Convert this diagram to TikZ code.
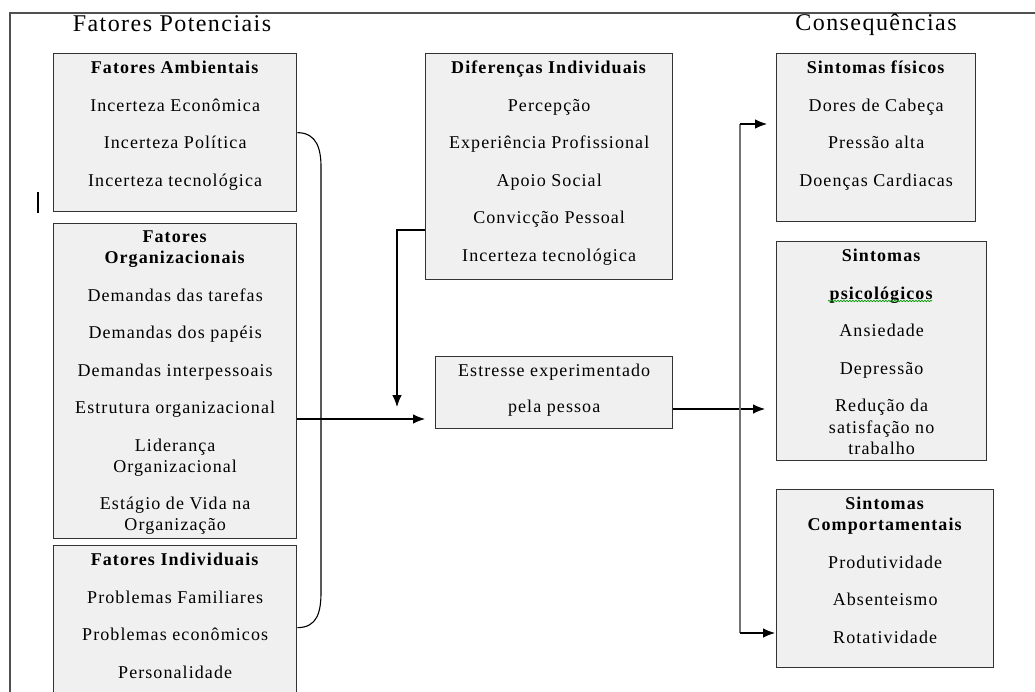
\documentclass[tikz,border=0pt]{standalone}
\usepackage{fontspec}
\setmainfont{Liberation Serif}[LetterSpace=6]
\usepackage{tikz}
\usetikzlibrary{positioning, arrows.meta, decorations.pathmorphing}
\tikzset{>={Latex[length=12pt,width=9.5pt]}}
\definecolor{caixacinza}{HTML}{F0F0F0}
\definecolor{moldura}{HTML}{505050}
\newcommand{\corpo}{\fontsize{18}{37.5}\selectfont}
\newcommand{\titulo}{\fontsize{24}{28}\selectfont}

\begin{document}
\begin{tikzpicture}[x=1pt, y=-1pt,
  caixa/.style={draw=black!80, line width=1.3pt, fill=caixacinza, anchor=north west, inner sep=0pt},
  lista/.style={align=center, font=\corpo, inner sep=0pt, below=8pt of #1.north},
  seta/.style={->, line width=1.1pt}]
\useasboundingbox (0,0) rectangle (1035,692);
\clip (0,0) rectangle (1035,692);
\draw[moldura, line width=1.5pt] (10,700) -- (10,13) -- (1040,13);
\draw[line width=2.5pt] (38,192) -- (38,213);

\node[font=\titulo, anchor=base] (potenciais) at (172,32) {Fatores Potenciais};
\node[font=\titulo, anchor=base] (consequencias) at (876,31) {Consequências};

% fatores potenciais
\node[caixa, minimum width=243pt, minimum height=158pt] (amb) at (53,53) {};
\node[lista=amb] (ambtxt) {\textbf{Fatores Ambientais}\\ Incerteza Econômica\\ Incerteza Política\\ Incerteza tecnológica};
\node[caixa, minimum width=243pt, minimum height=315pt] (org) at (53,223) {};
\node[lista=org] (orgtxt) {\textbf{Fatores}\\[-16.5pt] \textbf{Organizacionais}\\ Demandas das tarefas\\ Demandas dos papéis\\ Demandas interpessoais\\ Estrutura organizacional\\ Liderança\\[-16.5pt] Organizacional\\ Estágio de Vida na\\[-16.5pt] Organização};
\node[caixa, minimum width=243pt, minimum height=164pt] (ind) at (53,545) {};
\node[lista=ind] (indtxt) {\textbf{Fatores Individuais}\\ Problemas Familiares\\ Problemas econômicos\\ Personalidade};

\node[caixa, minimum width=247pt, minimum height=226pt] (dif) at (425,53) {};
\node[lista=dif] (diftxt) {\textbf{Diferenças Individuais}\\ Percepção\\ Experiência Profissional\\ Apoio Social\\ Convicção Pessoal\\ Incerteza tecnológica};
\node[caixa, minimum width=237pt, minimum height=72pt] (est) at (435,356) {};
\node[lista=est] (esttxt) {Estresse experimentado\\[-1.5pt] pela pessoa};

% consequencias
\node[caixa, minimum width=199pt, minimum height=168pt] (fis) at (776,53) {};
\node[lista=fis] (fistxt) {\textbf{Sintomas físicos}\\ Dores de Cabeça\\ Pressão alta\\ Doenças Cardiacas};
\node[caixa, minimum width=210pt, minimum height=219pt] (psi) at (776,241) {};
\node[lista=psi] (psitxt) {\textbf{Sintomas}\\ \textbf{psicológicos}\\ Ansiedade\\ Depressão\\ Redução da\\[-16pt] satisfação no\\[-16.5pt] trabalho};
\draw[green!60!black, line width=0.7pt, decorate, decoration={snake, amplitude=0.7pt, segment length=3pt}] (828,301) -- (932,301);
\node[caixa, minimum width=217pt, minimum height=178pt] (comp) at (776,489) {};
\node[lista=comp] (comptxt) {\textbf{Sintomas}\\[-16.5pt] \textbf{Comportamentais}\\ Produtividade\\ Absenteismo\\ Rotatividade};

% ligacoes
\draw[line width=1.1pt] (amb.east) .. controls +(20,0) and (321,150) .. (321,167) -- (321,592) .. controls (321,612) and +(20,0) .. (ind.east);
\draw[seta, shorten >=10pt] (org.east |- 0,419) -- (est.west |- 0,419);
\coordinate (desce) at (397,407);
\draw[seta] (dif.west |- 0,230) -| (desce);
\draw[seta, shorten >=11pt] (est.east |- 0,409) -- (psi.west |- 0,409);
\coordinate (jtop) at (740,124);
\coordinate (jbot) at (740,633);
\draw[line width=1.8pt, black!55] (jtop) -- (jbot);
\draw[seta, shorten >=9pt] (jtop) -- (fis.west |- jtop);
\draw[seta, shorten >=1pt] (jbot) -- (comp.west |- jbot);

\end{tikzpicture}
\end{document}
